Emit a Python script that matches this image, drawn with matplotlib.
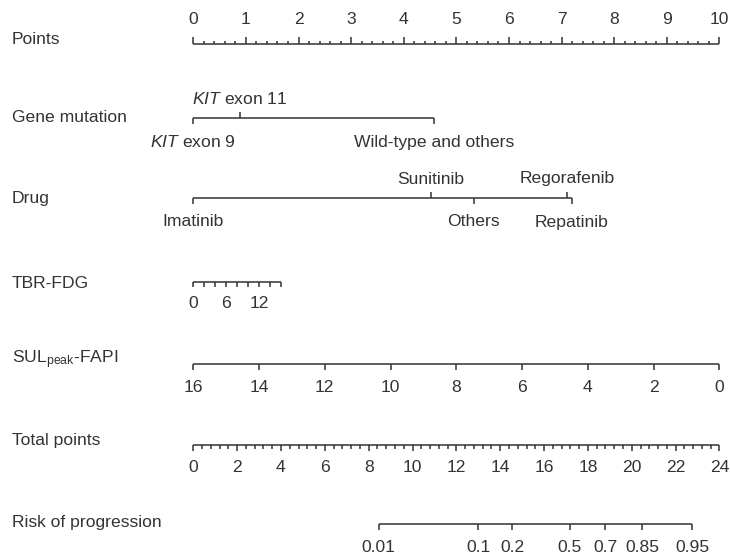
import numpy as np
import matplotlib
matplotlib.use("Agg")
import matplotlib.pyplot as plt

plt.rcParams['font.family'] = ['Liberation Sans', 'DejaVu Sans']
plt.rcParams['mathtext.fontset'] = 'custom'
plt.rcParams['mathtext.rm'] = 'Liberation Sans'
plt.rcParams['mathtext.it'] = 'Liberation Sans:italic'

# ---------------- data ----------------
row_labels = ["Points", "Gene mutation", "Drug", "TBR-FDG",
              "SUL$_{\\mathrm{peak}}$-FAPI", "Total points", "Risk of progression"]

points_ticks = list(range(0, 11))

gene_levels = ["$\\it{KIT}$ exon 9", "$\\it{KIT}$ exon 11", "Wild-type and others"]
gene_points = [0.0, 0.88, 4.58]
gene_side = ["below", "above", "below"]

drug_levels = ["Imatinib", "Sunitinib", "Others", "Regorafenib", "Repatinib"]
drug_points = [0.0, 4.52, 5.33, 7.10, 7.19]
drug_side = ["below", "above", "below", "above", "below"]

tbr_ticks = [0, 2, 4, 6, 8, 10, 12, 14, 16]
tbr_labels = [0, 6, 12]
tbr_max = 16
tbr_max_points = 1.67

sul_ticks = [16, 14, 12, 10, 8, 6, 4, 2, 0]
sul_max = 16

total_major = list(range(0, 25, 2))
total_max = 24

risk_ticks = [0.01, 0.1, 0.2, 0.5, 0.7, 0.85, 0.95]
risk_labels = ["0.01", "0.1", "0.2", "0.5", "0.7", "0.85", "0.95"]
risk_slope = 0.527        # logit change per total point
risk_mid_total = 17.17    # total points at risk 0.5

# ---------------- layout ----------------
W, H = 730, 556
x0_px, x10_px = 193.3, 719.5
ppp = (x10_px - x0_px) / 10.0

row_y = [44, 118, 198, 282, 364, 445, 524]
label_y = [40, 118, 199, 283, 360, 441, 522]

col = "#333333"
fs = 12.6
lw = 1.1

fig = plt.figure(figsize=(W / 100, H / 100), dpi=100)
ax = fig.add_axes([0, 0, 1, 1])
ax.set_xlim(-x0_px / ppp, (W - x0_px) / ppp)
ax.set_ylim(H, 0)
ax.axis("off")

def px(v):
    return v / ppp

for lab, y in zip(row_labels, label_y):
    ax.text(px(12 - x0_px), y, lab, fontsize=fs, color=col, ha="left", va="center")

def hline(a, b, y):
    ax.plot([a, b], [y, y], color=col, lw=lw, solid_capstyle="butt")

def tick(x, y, length, up=False):
    ax.plot([x, x], [y, y - length if up else y + length], color=col, lw=lw,
            solid_capstyle="butt")

# Points
y = row_y[0]
hline(0, 10, y)
for m in np.arange(0, 10.001, 0.2):
    major = abs(m - round(m)) < 1e-6
    tick(m, y, 7 if major else 3.5, up=True)
for t in points_ticks:
    ax.text(t, y - 25, str(t), fontsize=fs, color=col, ha="center", va="center")

# Categorical rows
def cat_row(levels, pts, sides, y):
    hline(min(pts), max(pts), y)
    for lab, p, s in zip(levels, pts, sides):
        if s == "above":
            tick(p, y, 6, up=True)
            ax.text(p, y - 19, lab, fontsize=fs, color=col, ha="center", va="center")
        else:
            tick(p, y, 6, up=False)
            ax.text(p, y + 24, lab, fontsize=fs, color=col, ha="center", va="center")

cat_row(gene_levels, gene_points, gene_side, row_y[1])
cat_row(drug_levels, drug_points, drug_side, row_y[2])

# TBR-FDG
y = row_y[3]
tp = lambda v: v / tbr_max * tbr_max_points
hline(tp(0), tp(tbr_max), y)
for t in tbr_ticks:
    tick(tp(t), y, 5)
for t in tbr_labels:
    ax.text(tp(t), y + 21, str(t), fontsize=fs, color=col, ha="center", va="center")

# SUL peak FAPI
y = row_y[4]
sp = lambda v: (sul_max - v) / sul_max * 10
hline(sp(sul_max), sp(0), y)
for t in sul_ticks:
    tick(sp(t), y, 6)
    ax.text(sp(t), y + 23, str(t), fontsize=fs, color=col, ha="center", va="center")

# Total points
y = row_y[5]
tt = lambda v: v / total_max * 10
hline(tt(0), tt(total_max), y)
for m in np.arange(0, total_max + 0.001, 0.4):
    major = abs(m / 2 - round(m / 2)) < 1e-6
    tick(tt(m), y, 6 if major else 3.5)
for t in total_major:
    ax.text(tt(t), y + 23, str(t), fontsize=fs, color=col, ha="center", va="center")

# Risk
y = row_y[6]
def risk_x(p):
    return tt(risk_mid_total + np.log(p / (1 - p)) / risk_slope)
hline(risk_x(risk_ticks[0]), risk_x(risk_ticks[-1]), y)
for p, lab in zip(risk_ticks, risk_labels):
    tick(risk_x(p), y, 6)
    ax.text(risk_x(p), y + 23, lab, fontsize=fs, color=col, ha="center", va="center")

fig.savefig("out.png", dpi=100)
